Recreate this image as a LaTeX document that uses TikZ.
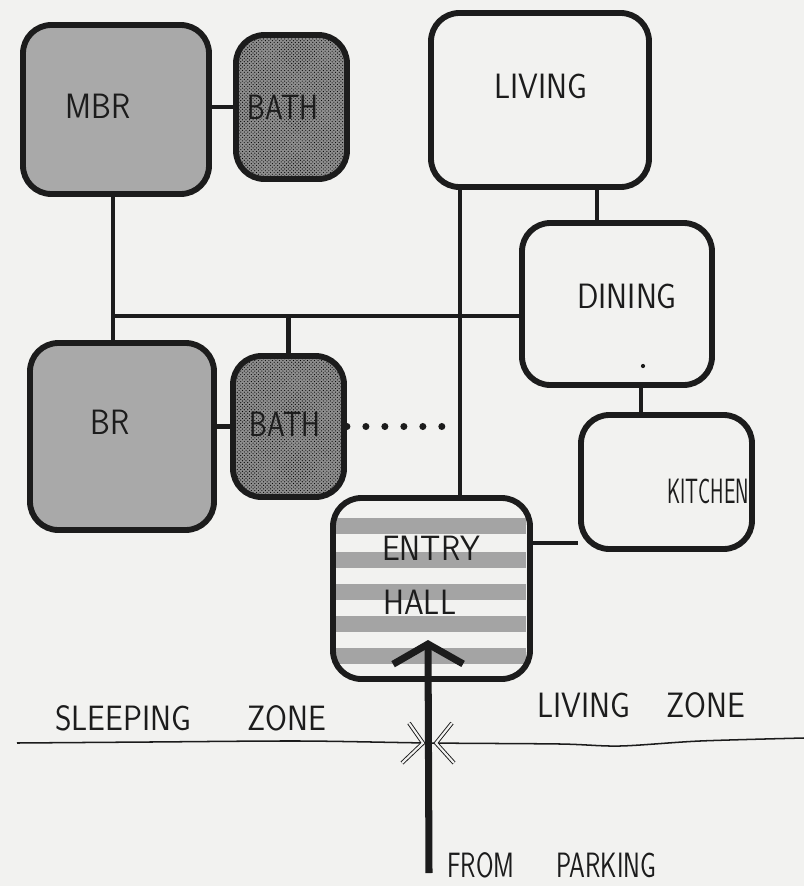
\documentclass[tikz,border=0pt]{standalone}
\usepackage{fontspec}
\usepackage{tikz}
\usetikzlibrary{arrows.meta,patterns,calc}
\newfontfamily\handschrift[FakeStretch=0.9]{Latin Modern Sans}
\definecolor{papier}{HTML}{F2F2F0}
\definecolor{tinte}{HTML}{1C1C1C}
\definecolor{schlaf}{HTML}{A9A9A9}
\definecolor{nass}{HTML}{8E8E8E}
\definecolor{streif}{HTML}{A4A4A4}
\tikzset{
  raum/.style={draw=tinte,line width=5pt,rounded corners=0.85cm,inner sep=0pt},
  schlafraum/.style={raum,fill=schlaf},
  bad/.style={raum,preaction={fill=nass},pattern=crosshatch dots,pattern color=black},
  verb/.style={tinte,line width=4.2pt},
  punkte/.style={tinte,line width=6pt,line cap=round,dash pattern=on 0pt off 16.2pt},
  zugang/.style={-{Straight Barb[length=0.6cm,width=2.1cm]},tinte,line width=6pt},
  tuer/.style={tinte,line width=0.8pt,double=papier,double distance=1.8pt},
  zone/.style={tinte,line width=1.3pt},
  beschr/.style={tinte,inner sep=0pt,font=\handschrift\fontsize{30}{34}\selectfont},
}

\begin{document}
\begin{tikzpicture}[x=0.03cm,y=-0.03cm]
  \useasboundingbox (0,0) rectangle (804,886);
  \fill[papier] (0,0) rectangle (804,886);
  % --- Schlafzone ---
  \node[schlafraum,minimum width=5.58cm,minimum height=5.07cm] (mbr) at (116,109.5) {};
  \node[bad,minimum width=3.33cm,minimum height=4.32cm] (bad1) at (291.5,107) {};
  \node[schlafraum,minimum width=5.52cm,minimum height=5.61cm] (br) at (122,436.5) {};
  \node[bad,minimum width=3.33cm,minimum height=4.23cm] (bad2) at (288.5,426.5) {};
  % --- Wohnzone ---
  \node[raum,minimum width=6.54cm,minimum height=5.22cm] (living) at (540,100) {};
  \node[raum,minimum width=5.7cm,minimum height=4.86cm] (dining) at (617,304) {};
  \node[raum,minimum width=5.13cm,minimum height=4.02cm] (kitchen) at (666.5,482) {};
  % --- Eingang ---
  \begin{scope}
    \clip[rounded corners=0.8cm] (333,498) rectangle (530,679);
    \foreach \y in {518,552,584,616,648}
      \fill[streif] (336,\y) rectangle (526,\y+16);
  \end{scope}
  \node[raum,minimum width=5.91cm,minimum height=5.43cm] (entry) at (431.5,588.5) {};

  % --- Verbindungen ---
  \coordinate (achse) at (113,316);
  \coordinate (stamm) at (460,316);
  \coordinate (ek) at (555,543);
  \draw[verb] (bad1.west) -- (bad1.west -| mbr.east);
  \draw[verb] (bad2.west) -- (bad2.west -| br.east);
  \draw[verb] (mbr.south -| achse) -- (br.north -| achse);
  \draw[verb] (achse) -- (achse -| dining.west);
  \draw[verb] (bad2.north) -- (bad2.north |- achse);
  \draw[verb] (living.south -| stamm) -- (entry.north -| stamm);
  \draw[verb] ([xshift=1.71cm]living.south) -- ([xshift=1.71cm]living.south |- dining.north);
  \draw[verb] ([xshift=0.72cm]dining.south) -- ([xshift=0.72cm]dining.south |- kitchen.north);
  \draw[verb] (ek -| entry.east) -- (ek -| kitchen.west);
  \draw[punkte] (bad2.east) -- (bad2.east -| stamm);
  \fill[tinte] (643,366) circle (1.8pt);

  % --- Zonengrenze ---
  \draw[zone] plot[smooth] coordinates {(17,743) (150,742) (300,741) (430,743) (560,744) (620,746) (700,741) (804,738)};
  \draw[tuer] (409,723) -- (423,743) -- (402,763);
  \draw[tuer] (452,723) -- (436,743) -- (454,763);
  \coordinate (park) at (429,873);
  \coordinate (ziel) at (428,640);
  \draw[zugang] (park) -- (ziel);

  % --- Beschriftung ---
  \node[beschr] (mbrtext) at (98,106) {MBR};
  \node[beschr] (bad1text) at (283,107) {\scalebox{0.9}[1]{BATH}};
  \node[beschr] (brtext) at (110,422) {BR};
  \node[beschr] (bad2text) at (285,424) {\scalebox{0.9}[1]{BATH}};
  \node[beschr] (livingtext) at (541,86) {LIVING};
  \node[beschr] (diningtext) at (627,296) {DINING};
  \node[beschr] (kitchentext) at (708,491) {\scalebox{0.64}[1]{KITCHEN}};
  \node[beschr,anchor=west] (entrytext) at (382,548) {ENTRY};
  \node[beschr,anchor=west] (halltext) at (383,602) {HALL};
  \node[beschr,anchor=west] (schlaftext) at (55,718) {SLEEPING\hspace{48pt}ZONE};
  \node[beschr,anchor=west] (wohntext) at (537,705) {LIVING\hspace{31pt}ZONE};
  \node[beschr,anchor=west] (parktext) at (447,865) {\scalebox{0.8}[1]{FROM\hspace{45pt}PARKING}};
\end{tikzpicture}
\end{document}
